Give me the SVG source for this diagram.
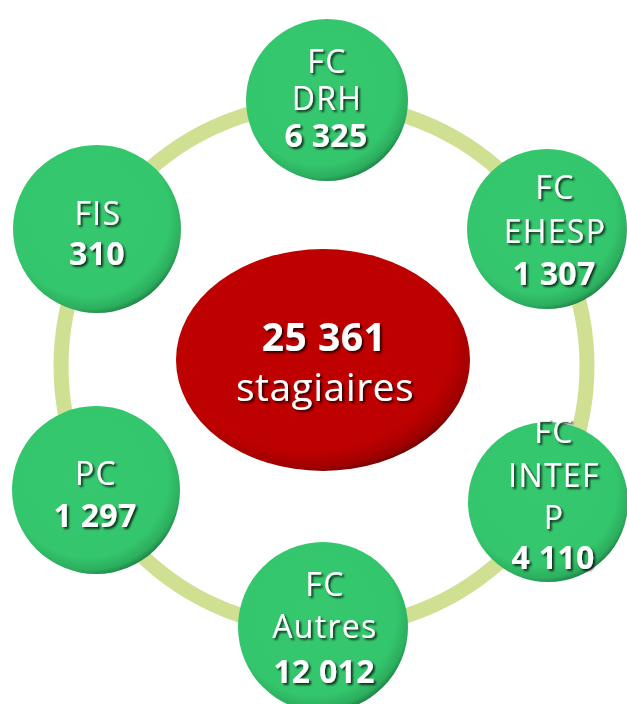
<svg xmlns="http://www.w3.org/2000/svg" width="627" height="704" viewBox="0 0 627 704">
<defs>
<radialGradient id="gGreen" cx="0.45" cy="0.42" r="0.6">
<stop offset="0" stop-color="#36c86f"/>
<stop offset="0.8" stop-color="#34c66d"/>
<stop offset="0.93" stop-color="#2cae5e"/>
<stop offset="1" stop-color="#1b7e43"/>
</radialGradient>
<radialGradient id="gRed" cx="0.45" cy="0.42" r="0.6">
<stop offset="0" stop-color="#c00000"/>
<stop offset="0.82" stop-color="#bd0000"/>
<stop offset="0.94" stop-color="#a00000"/>
<stop offset="1" stop-color="#6a0000"/>
</radialGradient>
<filter id="ts" x="-20%" y="-20%" width="140%" height="160%">
<feDropShadow dx="2" dy="2" stdDeviation="0.8" flood-color="#000" flood-opacity="0.75"/>
</filter>
</defs>
<style>
.node{fill:url(#gGreen);}
.t{font-family:"Open Sans","DejaVu Sans",sans-serif;fill:#fff;text-anchor:middle;font-size:32px;letter-spacing:1.3px;filter:url(#ts);}
.b{font-weight:bold;letter-spacing:0.3px;}
.big{font-size:39px;letter-spacing:0.5px;}
.ring{fill:none;stroke:#cfe092;stroke-width:15;}
</style>
<g id="connectors">
<circle class="ring" cx="324" cy="366" r="263"/>
</g>
<g id="fc-drh">
<circle class="node" cx="327" cy="100" r="81"/>
<text class="t" x="327" y="73">FC</text>
<text class="t" x="327" y="110">DRH</text>
<text class="t b" x="326" y="147">6 325</text>
</g>
<g id="fc-ehesp">
<circle class="node" cx="547" cy="229" r="80"/>
<text class="t" x="555" y="199">FC</text>
<text class="t" x="555" y="243">EHESP</text>
<text class="t b" x="554" y="285">1 307</text>
</g>
<g id="fc-intefp">
<circle class="node" cx="548" cy="502" r="80"/>
<text class="t" x="554" y="443">FC</text>
<text class="t" x="554" y="487">INTEF</text>
<text class="t" x="554" y="529">P</text>
<text class="t b" x="553" y="569">4 110</text>
</g>
<g id="fc-autres">
<circle class="node" cx="323" cy="627" r="85"/>
<text class="t" x="325" y="596">FC</text>
<text class="t" x="325" y="638">Autres</text>
<text class="t b" x="324" y="683">12 012</text>
</g>
<g id="pc">
<circle class="node" cx="96" cy="490" r="84"/>
<text class="t" x="96" y="485">PC</text>
<text class="t b" x="95" y="527">1 297</text>
</g>
<g id="fis">
<circle class="node" cx="97" cy="229" r="84"/>
<text class="t" x="98" y="225">FIS</text>
<text class="t b" x="97" y="265">310</text>
</g>
<g id="total">
<ellipse cx="323" cy="360" rx="147" ry="111" fill="url(#gRed)"/>
<text class="t b big" x="324" y="351">25 361</text>
<text class="t big" x="325" y="401">stagiaires</text>
</g>
</svg>
